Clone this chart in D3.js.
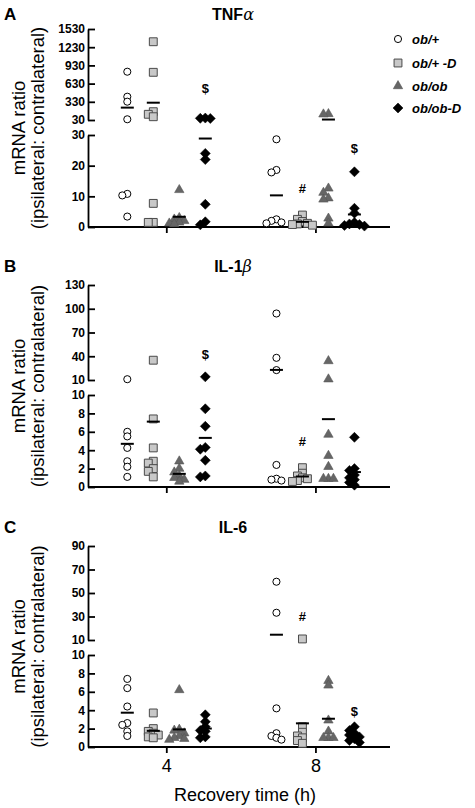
<!DOCTYPE html>
<html><head><meta charset="utf-8">
<script src="https://cdn.jsdelivr.net/npm/d3@7"></script>
<style>body{margin:0;background:#fff}svg{display:block}</style>
</head><body>
<svg id="chart" width="475" height="808"></svg>
<script>
// ---------- data ----------
const groups = ["ob/+", "ob/+ -D", "ob/ob", "ob/ob-D"];
const times = [4, 8];
const panelLetters = ["A", "B", "C"];
const panelTitles = [["TNF", "α"], ["IL-1", "β"], ["IL-6", ""]];

// values per group (ob/+, ob/+ -D, ob/ob, ob/ob-D)
const tnfAt4 = [[826, 414, 332, 42, 10.8, 10.3, 3.4],
                [1320, 816, 167, 124, 84, 7.7, 1.5, 1.5],
                [12.1, 3.0, 2.5, 2.0, 1.5, 1.2, 1.0],
                [62, 58, 55, 24, 22, 7.4, 1.7, 0.7]];
const tnfAt8 = [[28.6, 18.6, 17.8, 2.5, 2.0, 1.5, 1.2],
                [3.9, 2.5, 1.8, 1.2, 1.0, 0.8, 0.6],
                [130, 125, 12.6, 11.2, 9.4, 9.0, 2.8, 1.2],
                [18, 6.1, 4.5, 1.5, 1.0, 0.8, 0.5, 0.3]];
const il1At4 = [[11, 6.0, 5.5, 4.25, 2.8, 2.2, 1.1],
                [35, 7.4, 4.25, 2.8, 2.6, 2.0, 1.7, 1.1],
                [2.8, 2.0, 1.6, 1.2, 1.0, 0.8, 0.6],
                [14, 8.5, 6.6, 4.3, 4.1, 2.9, 1.2, 1.1]];
const il1At8 = [[94, 38, 22.5, 2.4, 0.9, 0.8, 0.7],
                [2.1, 1.5, 1.2, 1.0, 0.9, 0.7, 0.6],
                [34, 11, 5.7, 3.4, 2.2, 0.9, 0.9, 0.9],
                [5.4, 2.0, 1.8, 1.3, 1.0, 0.8, 0.5, 0.2]];
const il6At4 = [[7.4, 6.4, 4.4, 2.6, 2.4, 1.7, 1.2],
                [3.7, 2.0, 1.7, 1.5, 1.3, 1.1, 1.0],
                [6.2, 1.9, 1.8, 1.5, 1.2, 1.0, 0.9, 0.8],
                [3.5, 2.75, 2.2, 1.8, 1.7, 1.1, 1.0]];
const il6At8 = [[59.6, 33.2, 4.2, 1.5, 1.2, 1.0, 0.8],
                [10.9, 2.2, 1.6, 1.2, 1.0, 0.7, 0.4],
                [7.2, 6.7, 2.9, 1.7, 1.0, 1.0, 1.0],
                [2.2, 1.8, 1.5, 1.3, 1.1, 0.9, 0.7, 0.5]];

// broken y-axis ticks: lower segment and upper segment
const lowerTicks = [[0, 10, 20, 30], [0, 2, 4, 6, 8, 10], [0, 2, 4, 6, 8, 10]];
const upperTicks = [[30, 330, 630, 930, 1230, 1530], [10, 40, 70, 100, 130], [10, 30, 50, 70, 90]];

// significance marks: [time, group index, symbol, value level]
const marksA = [[4, 3, "$", 557], [8, 1, "#", 12.7], [8, 3, "$", 25.7]];
const marksB = [[4, 3, "$", 42.5], [8, 1, "#", 4.9]];
const marksC = [[8, 1, "#", 29.8], [8, 3, "$", 3.85]];

const panelData = [[tnfAt4, tnfAt8], [il1At4, il1At8], [il6At4, il6At8]];
const panelMarks = [marksA, marksB, marksC];

// ---------- layout ----------
const svg = d3.select("#chart");
const FONT = "'Liberation Sans', Arial, Helvetica, sans-serif";
const axisX0 = 88, axisX1 = 390;
const x = d3.scaleLinear().domain([1.9, 10]).range([axisX0, axisX1]);
const gx = d3.scalePoint().domain(groups).range([-39, 39]);
const panelBottoms = [227, 487, 747];
const panelTops = [29, 285, 546];
const lowH = 92, gap = 15;

const styles = {
  "ob/+":    {type: d3.symbolCircle, size: 40, fill: "#fff", stroke: "#000", sw: 1, rot: 0},
  "ob/+ -D": {type: d3.symbolSquare, size: 62, fill: "#c8c8c8", stroke: "#4a4a4a", sw: 1, rot: 0},
  "ob/ob":   {type: d3.symbolTriangle, size: 38, fill: "#666666", stroke: "#555", sw: 0.6, rot: 0},
  "ob/ob-D": {type: d3.symbolSquare, size: 50, fill: "#000", stroke: "#000", sw: 0.5, rot: 45}
};
function drawSymbol(g, grp, cx, cy) {
  const s = styles[grp];
  g.append("path")
    .attr("d", d3.symbol().type(s.type).size(s.size)())
    .attr("transform", `translate(${cx},${cy}) rotate(${s.rot})`)
    .attr("fill", s.fill).attr("stroke", s.stroke).attr("stroke-width", s.sw);
}

function swarm(vals, yFn, cx) {
  const pts = vals.map(v => ({v, y: yFn(v)})).sort((a, b) => a.y - b.y);
  const placed = [];
  const step = 5, minD = 4.5;
  for (const p of pts) {
    p.x = cx;
    for (let k = 0; k < 30; k++) {
      const off = k === 0 ? 0 : (k % 2 ? -1 : 1) * Math.ceil(k / 2) * step;
      if (placed.every(q => Math.hypot(q.x - (cx + off), q.y - p.y) >= minD)) { p.x = cx + off; break; }
    }
    placed.push(p);
  }
  return placed;
}

panelData.forEach((pd, i) => {
  const bottom = panelBottoms[i];
  const lowTop = bottom - lowH;
  const upBot = lowTop - gap;
  const lt = lowerTicks[i], ut = upperTicks[i];
  const yLow = d3.scaleLinear().domain([lt[0], lt[lt.length - 1]]).range([bottom, lowTop]);
  const yUp = d3.scaleLinear().domain([ut[0], ut[ut.length - 1]]).range([upBot, panelTops[i]]);
  const split = lt[lt.length - 1];
  const yv = v => v > split ? yUp(v) : yLow(v);
  const g = svg.append("g");

  // axes
  const mkLeft = (sc, ticks) => d3.axisLeft(sc).tickValues(ticks).tickFormat(d3.format("d"))
    .tickSize(-7).tickSizeOuter(0).tickPadding(3);
  [[yLow, lt], [yUp, ut]].forEach(([sc, tk]) => {
    const a = g.append("g").attr("transform", `translate(${axisX0},0)`).call(mkLeft(sc, tk));
    a.selectAll("path,line").attr("stroke", "#000").attr("stroke-width", 1.8);
    a.selectAll("text").attr("font-family", FONT).attr("font-size", 12).attr("font-weight", "bold").attr("fill", "#000");
  });
  const xa = g.append("g").attr("transform", `translate(0,${bottom})`)
    .call(d3.axisBottom(x).tickValues(times).tickSize(6).tickSizeOuter(0).tickPadding(6)
      .tickFormat(i === 2 ? d3.format("d") : () => ""));
  xa.select(".domain").attr("d", `M${axisX0},0H${axisX1}`);
  xa.selectAll("path,line").attr("stroke", "#000").attr("stroke-width", 1.8);
  xa.selectAll("text").attr("font-family", FONT).attr("font-size", 18).attr("fill", "#000");

  // y titles
  const midY = (panelTops[i] + bottom) / 2;
  [["mRNA ratio", 18], ["(ipsilateral: contralateral)", 37]].forEach(([t, px]) => {
    g.append("text").attr("transform", `translate(${px},${midY}) rotate(-90)`)
      .attr("text-anchor", "middle").attr("dominant-baseline", "central")
      .attr("font-family", FONT).attr("font-size", 18.5).text(t);
  });

  // panel letter & title
  g.append("text").attr("x", 4).attr("y", panelTops[i] - 9 - (i === 0 ? 0 : 4))
    .attr("font-family", FONT).attr("font-weight", "bold").attr("font-size", 17).text(panelLetters[i]);
  const tt = g.append("text").attr("x", 233).attr("y", panelTops[i] - 9 - (i === 0 ? 0 : 4))
    .attr("text-anchor", "middle").attr("font-family", FONT).attr("font-weight", "bold").attr("font-size", 16);
  tt.append("tspan").text(panelTitles[i][0]);
  if (panelTitles[i][1]) tt.append("tspan").attr("font-family", "'DejaVu Serif', 'Liberation Serif', serif")
    .attr("font-style", "italic").attr("font-weight", "normal").text(panelTitles[i][1]);

  // points & means
  times.forEach((t, ti) => {
    groups.forEach((grp, gi) => {
      const vals = pd[ti][gi];
      const cx = x(t) + gx(grp);
      swarm(vals, yv, cx).forEach(p => drawSymbol(g, grp, p.x, p.y));
      const m = d3.mean(vals);
      g.append("line").attr("x1", cx - 6.5).attr("x2", cx + 6.5).attr("y1", yv(m)).attr("y2", yv(m))
        .attr("stroke", "#000").attr("stroke-width", 2);
    });
  });

  // significance marks
  panelMarks[i].forEach(([t, gi, sym, v]) => {
    g.append("text").attr("x", x(t) + gx(groups[gi])).attr("y", yv(v))
      .attr("text-anchor", "middle").attr("dominant-baseline", "central")
      .attr("font-family", FONT).attr("font-weight", "bold").attr("font-size", 13).text(sym);
  });
});

// x title
svg.append("text").attr("x", 245).attr("y", 801).attr("text-anchor", "middle")
  .attr("font-family", FONT).attr("font-size", 18).text("Recovery time (h)");

// legend
const legY = [39, 63, 86, 108];
groups.forEach((grp, gi) => {
  const lg = svg.append("g");
  drawSymbol(lg, grp, 398, legY[gi]);
  lg.append("text").attr("x", 412).attr("y", legY[gi]).attr("dominant-baseline", "central")
    .attr("font-family", FONT).attr("font-weight", "bold").attr("font-style", "italic")
    .attr("font-size", 13).text(grp);
});
</script>
</body></html>
